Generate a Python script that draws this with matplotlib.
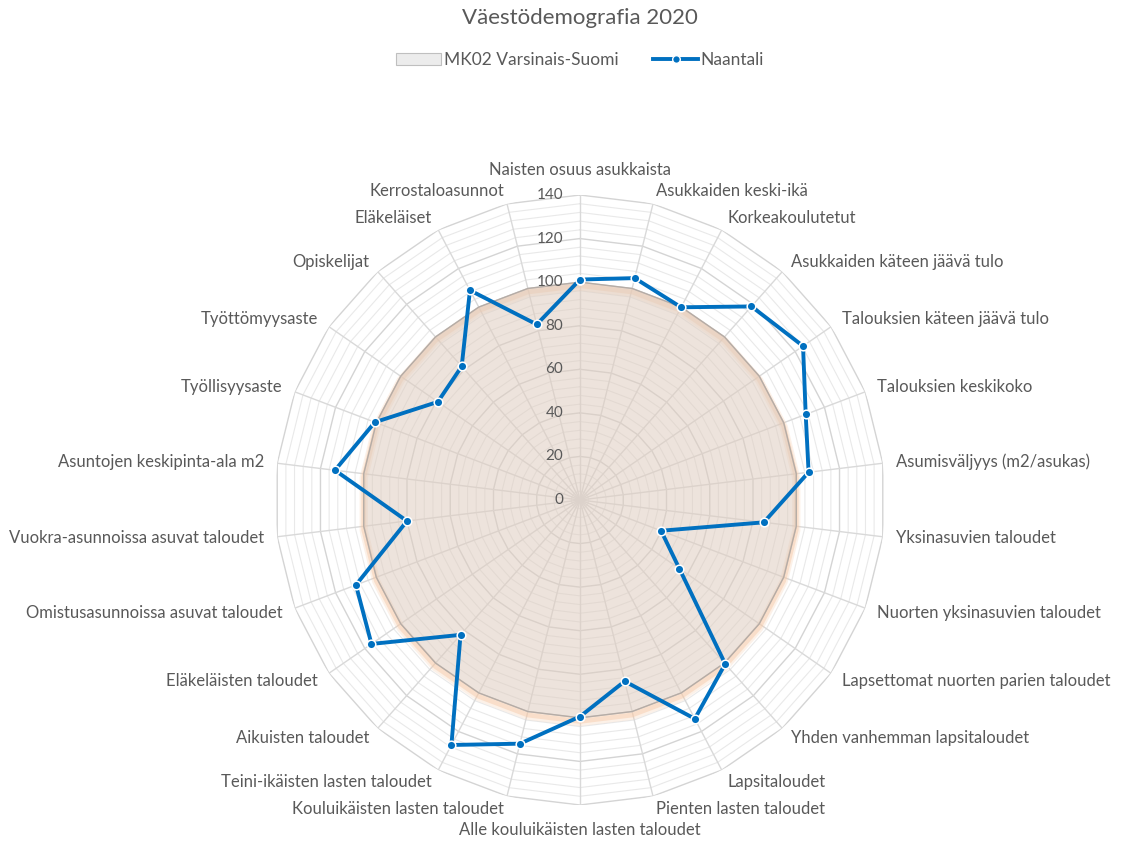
import numpy as np
import matplotlib
matplotlib.use("Agg")
import matplotlib.pyplot as plt
import matplotlib.transforms as mtransforms
from matplotlib.patches import Patch
from matplotlib.lines import Line2D

plt.rcParams['font.family'] = ['Lato', 'DejaVu Sans']

title = 'Väestödemografia 2020'
categories = [
    'Naisten osuus asukkaista', 'Asukkaiden keski-ikä', 'Korkeakoulutetut',
    'Asukkaiden käteen jäävä tulo', 'Talouksien käteen jäävä tulo',
    'Talouksien keskikoko', 'Asumisväljyys (m2/asukas)', 'Yksinasuvien taloudet',
    'Nuorten yksinasuvien taloudet', 'Lapsettomat nuorten parien taloudet',
    'Yhden vanhemman lapsitaloudet', 'Lapsitaloudet', 'Pienten lasten taloudet',
    'Alle kouluikäisten lasten taloudet', 'Kouluikäisten lasten taloudet',
    'Teini-ikäisten lasten taloudet', 'Aikuisten taloudet', 'Eläkeläisten taloudet',
    'Omistusasunnoissa asuvat taloudet', 'Vuokra-asunnoissa asuvat taloudet',
    'Asuntojen keskipinta-ala m2', 'Työllisyysaste', 'Työttömyysaste',
    'Opiskelijat', 'Eläkeläiset', 'Kerrostaloasunnot',
]
region_name = 'MK02 Varsinais-Suomi'
region_values = [100] * 26
town_name = 'Naantali'
town_values = [101.2, 104.9, 99.9, 118.7, 124.4, 110.8, 105.7, 85.0, 39.8, 55.4,
               100.5, 113.4, 85.7, 99.4, 115.2, 127.0, 82.7, 116.3, 110.0, 80.0,
               113.3, 100.7, 79.3, 81.9, 108.7, 83.0]
ticks = [0, 20, 40, 60, 80, 100, 120, 140]
rmax = 140

text_col = '#595959'
blue = '#0070c0'

fig = plt.figure(figsize=(11.22, 8.41), dpi=100)
W, H = 1122, 841
cx, cy, R = 580, 500, 305
ax = fig.add_axes([(cx - R) / W, (H - cy - R) / H, 2 * R / W, 2 * R / H], projection='polar')
ax.set_theta_offset(np.pi / 2)
ax.set_theta_direction(-1)
ax.set_ylim(0, rmax)
ax.axis('off')

n = len(categories)
theta = np.linspace(0, 2 * np.pi, n, endpoint=False)
tc = np.append(theta, theta[0])
reg = np.append(region_values, region_values[0])

# polygon grid
for r in range(4, rmax + 1, 4):
    major = r % 20 == 0
    ax.plot(tc, [r] * (n + 1), color='#d4d4d4' if major else '#e9e9e9',
            lw=1.0 if major else 0.8, zorder=1)
for t in theta:
    ax.plot([t, t], [0, rmax], color='#d9d9d9', lw=1.0, zorder=1)

# region area with soft shadow
for dy, lw, a in [(-3, 6, 0.25), (-2.5, 3.5, 0.45)]:
    shadow = ax.transData + mtransforms.ScaledTranslation(0, dy / 72, fig.dpi_scale_trans)
    ax.plot(tc, reg, color='#f7c9a6', lw=lw, alpha=a, transform=shadow, zorder=2)
ax.fill(tc, reg, color='#dfcdc0', alpha=0.55, zorder=3, lw=0)
ax.plot(tc, reg, color='#b5aca6', lw=1.0, zorder=3)

# town line
ax.plot(tc, np.append(town_values, town_values[0]), color=blue, lw=2.8, zorder=5,
        marker='o', markersize=6.2, markerfacecolor=blue, markeredgecolor='white',
        markeredgewidth=1.1)

# tick labels
for v in ticks:
    ax.annotate(str(v), (0, v), xytext=(-12, 0), textcoords='offset points',
                ha='right', va='center', fontsize=11, color=text_col)

# category labels
for t, lab in zip(theta, categories):
    s = np.sin(t)
    if abs(s) < 0.05:
        ha = 'center'
        va = 'bottom' if np.cos(t) > 0 else 'top'
        rr = rmax + 8
    else:
        ha = 'left' if s > 0 else 'right'
        va = 'center'
        rr = rmax + 6
    ax.text(t, rr, lab, ha=ha, va=va, fontsize=12, color=text_col)

fig.text(cx / W, 1 - 18 / H, title, ha='center', va='center', fontsize=16, color=text_col)

handles = [
    Patch(facecolor='#ececec', edgecolor='#bfbfbf', lw=0.8, label=region_name),
    Line2D([0], [0], color=blue, lw=2.8, marker='o', markersize=5.5,
           markerfacecolor=blue, markeredgecolor='white', markeredgewidth=1, label=town_name),
]
fig.legend(handles=handles, loc='center', bbox_to_anchor=(cx / W, 1 - 60 / H), ncol=2,
           frameon=False, fontsize=12.5, labelcolor=text_col, handlelength=2.6,
           handletextpad=0.15, columnspacing=2.0)

fig.savefig('out.png', dpi=100)
